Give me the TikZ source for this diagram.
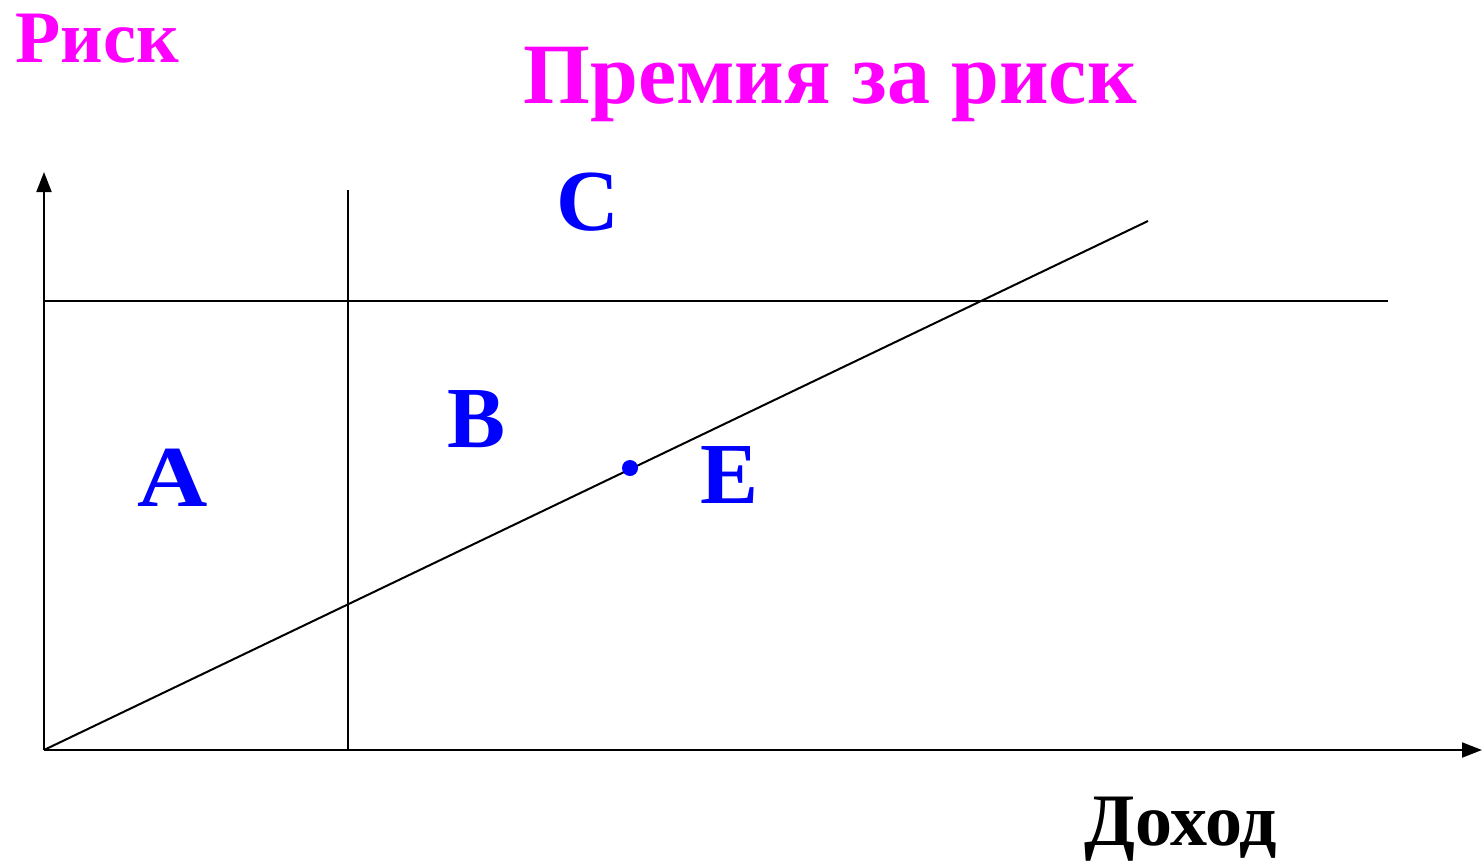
\documentclass[tikz,border=0pt]{standalone}
\usepackage{fontspec}
\setmainfont{Liberation Serif}
\usetikzlibrary{arrows.meta}
\definecolor{mag}{RGB}{255,0,255}
\definecolor{blu}{RGB}{0,0,255}
\tikzset{
  ln/.style={line width=2pt,black},
  axis/.style={ln,-{Triangle[length=20pt,width=15pt]}},
  ttl/.style={text=mag,font=\bfseries\fontsize{86}{86}\selectfont,inner sep=0pt,anchor=base},
  small/.style={font=\bfseries\fontsize{74}{74}\selectfont,inner sep=0pt,anchor=base},
  lbl/.style={text=blu,font=\bfseries\fontsize{87}{87}\selectfont,inner sep=0pt,anchor=base},
  dot/.style={circle,fill=blu,inner sep=0pt,minimum size=16pt}
}
\begin{document}
\begin{tikzpicture}[x=1pt,y=-1pt]
\useasboundingbox (0,0) rectangle (1484,862);
\coordinate (O) at (44,750);
\coordinate (Ytop) at (44,172);
\coordinate (Xend) at (1482,750);
\coordinate (Vtop) at (348,190);
\coordinate (Vbot) at (348,750);
\coordinate (Hl) at (44,301);
\coordinate (Hr) at (1388,301);
\coordinate (Dend) at (1148,221);
\draw[axis] (O) -- (Ytop);
\draw[axis] (O) -- (Xend);
\draw[ln] (Vbot) -- (Vtop);
\draw[ln] (Hl) -- (Hr);
\draw[ln] (O) -- (Dend);
\node[dot] (E) at (630,468) {};
\node[ttl,font=\bfseries\fontsize{74}{74}\selectfont] (risk) at (97,62) {Риск};
\node[ttl] (prem) at (830,103) {Премия за риск};
\node[small] (doh) at (1181,845) {Доход};
\node[lbl,xscale=1.12,transform shape] (lA) at (173,506) {A};
\node[lbl] (lB) at (477,447) {B};
\node[lbl] (lC) at (588,230) {C};
\node[lbl] (lE) at (730,503) {E};
\end{tikzpicture}
\end{document}
